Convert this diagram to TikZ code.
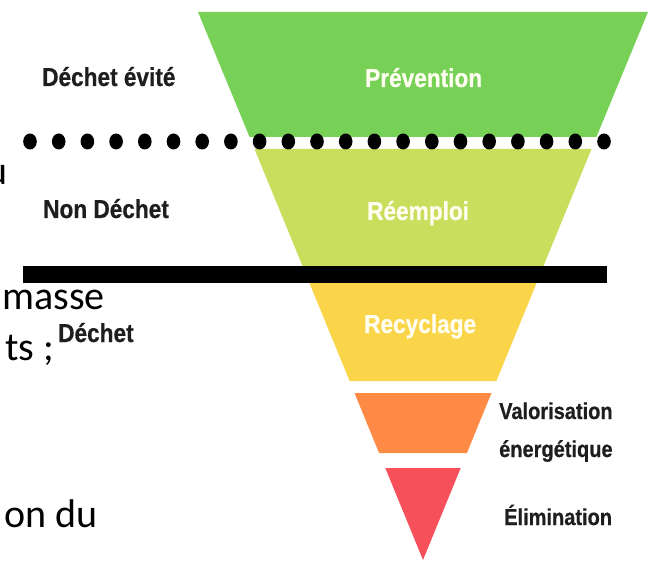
\documentclass[tikz,border=0pt]{standalone}
\usepackage{fontspec}
\usepackage{xcolor}
\newfontfamily\etiqfont{Liberation Sans}[FakeStretch=0.87,BoldFeatures={FakeBold=0.6}]
\newfontfamily\textefont{Carlito}
\definecolor{vertprev}{HTML}{77D157}
\definecolor{vertreemp}{HTML}{CADE5E}
\definecolor{jaunerecy}{HTML}{FAD54A}
\definecolor{orangevalo}{HTML}{FF8A45}
\definecolor{rougeelim}{HTML}{F8505A}
\definecolor{gristexte}{HTML}{1E1E1E}

\begin{document}
\begin{tikzpicture}[x=1pt,y=-1pt,
    etiq/.style={anchor=base west,inner sep=0pt,text=gristexte,font=\etiqfont\bfseries\fontsize{26}{30}\selectfont},
    etiqpetit/.style={etiq,font=\etiqfont\bfseries\fontsize{23}{27}\selectfont},
    etiqbande/.style={etiq,text=white!94!yellow},
    bribe/.style={anchor=base east,inner sep=0pt,font=\textefont\fontsize{40}{48}\selectfont}]
        \clip (0,0) rectangle (664,561);

        % Bribes du texte derriere l'image
        \path(8,185) node[bribe] (bribeU) {u};
        \path(105,310) node[bribe] (bribeMasse) {masse};
        \path(54,360) node[bribe] (bribeTs) {ts ;};
        \path(98,527) node[bribe] (bribeDu) {on du};

        % Pyramide inversee
        \fill[vertprev] (198,12) -- (648,12) -- (596.4,137) -- (249.6,137) -- cycle;
        \fill[vertreemp] (254.5,149) -- (591.5,149) -- (543.5,266) -- (302.5,266) -- cycle;
        \fill[jaunerecy] (309.4,283) -- (536.6,283) -- (496.4,381) -- (349.6,381) -- cycle;
        \fill[orangevalo] (354.5,393) -- (491.5,393) -- (466.9,453) -- (379.1,453) -- cycle;
        \fill[rougeelim] (385.3,468) -- (460.7,468) -- (423,560) -- cycle;

        % Separations
        \fill[black] (23,266) rectangle (607,283);
        \foreach \i in {0,...,20}
            \fill[black] (30+28.7*\i,141.5) ellipse (6.8pt and 8pt);

        % Etiquettes
        \path(42,86) node[etiq] (evite) {Déchet évité};
        \path(43,218) node[etiq] (nondechet) {Non Déchet};
        \path(58,342) node[etiq] (dechet) {Déchet};
        \path(365,87) node[etiqbande] (prevention) {Prévention};
        \path(367,220) node[etiqbande] (reemploi) {Réemploi};
        \path(364,333) node[etiqbande] (recyclage) {Recyclage};
        \path(499,419) node[etiqpetit] (valo) {Valorisation};
        \path(499,457) node[etiqpetit] (energ) {énergétique};
        \path(504,525) node[etiqpetit] (elim) {Élimination};
    \end{tikzpicture}
\end{document}
